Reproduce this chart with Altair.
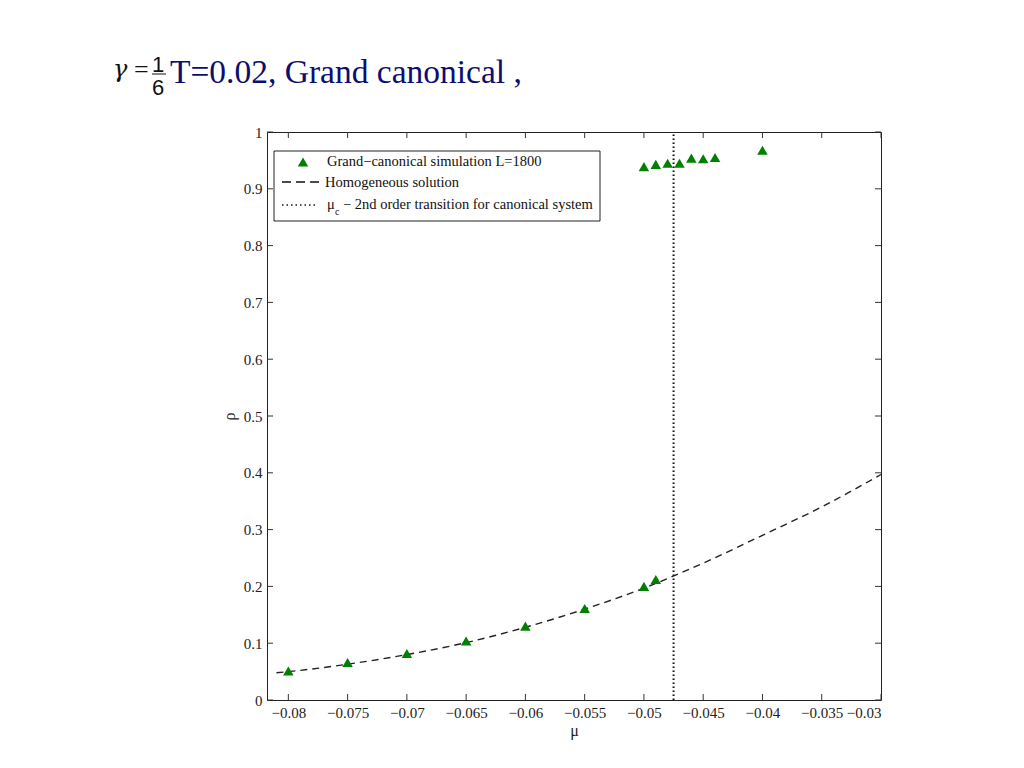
import altair as alt
import pandas as pd

# simulation points (grand canonical, L=1800)
sim_mu = [-0.08, -0.075, -0.07, -0.065, -0.06, -0.055, -0.05, -0.049,
          -0.05, -0.049, -0.048, -0.047, -0.046, -0.045, -0.044, -0.04]
sim_rho = [0.051, 0.066, 0.082, 0.104, 0.130, 0.161, 0.200, 0.212,
           0.939, 0.943, 0.945, 0.945, 0.954, 0.953, 0.955, 0.968]

# homogeneous solution
hom_mu = [-0.081, -0.08, -0.075, -0.07, -0.065, -0.06, -0.055, -0.05, -0.045, -0.04, -0.035, -0.03]
hom_rho = [0.048, 0.050, 0.063, 0.080, 0.101, 0.128, 0.160, 0.197, 0.241, 0.290, 0.340, 0.397]

mu_c = -0.0475
mu_c_range = [0, 1]

x_ticks = [-0.08, -0.075, -0.07, -0.065, -0.06, -0.055, -0.05, -0.045, -0.04, -0.035, -0.03]
y_ticks = [0, 0.1, 0.2, 0.3, 0.4, 0.5, 0.6, 0.7, 0.8, 0.9, 1]

W, H = 614, 568
serif = "Liberation Serif"
green = "#007f00"

xs = alt.Scale(domain=[-0.0818, -0.03], nice=False, zero=False)
ys = alt.Scale(domain=[0, 1], nice=False)

sim = pd.DataFrame({"mu": sim_mu, "rho": sim_rho})
hom = pd.DataFrame({"mu": hom_mu, "rho": hom_rho})
crit = pd.DataFrame({"mu": [mu_c, mu_c], "rho": mu_c_range})
one = pd.DataFrame({"a": [0]})

axis_style = dict(ticks=False, domain=False, grid=False,
                  labelFont=serif, labelFontSize=15, labelColor="#222",
                  titleFont=serif, titleFontSize=16, titleFontWeight="normal", titleColor="#222")
x_axis = alt.Axis(values=x_ticks, format="~g", labelPadding=5, title="μ", titlePadding=2, **axis_style)
y_axis = alt.Axis(values=y_ticks, format="~g", labelPadding=5, title="ρ", titlePadding=6, **axis_style)

dashed = alt.Chart(hom).mark_line(color="#222", strokeWidth=1.4, strokeDash=[7, 5], interpolate="monotone").encode(
    x=alt.X("mu:Q", scale=xs, axis=x_axis),
    y=alt.Y("rho:Q", scale=ys, axis=y_axis),
)

dotted = alt.Chart(crit).mark_line(color="#111", strokeWidth=2, strokeDash=[1.5, 2.5]).encode(
    x=alt.X("mu:Q", scale=xs, axis=x_axis), y=alt.Y("rho:Q", scale=ys, axis=y_axis)
)

points = alt.Chart(sim).mark_point(shape="triangle-up", filled=True, color=green, opacity=1, size=110).encode(
    x=alt.X("mu:Q", scale=xs, axis=x_axis), y=alt.Y("rho:Q", scale=ys, axis=y_axis)
)

# inward ticks on all four sides
xt = pd.DataFrame({"mu": x_ticks})
yt = pd.DataFrame({"rho": y_ticks})
tick_style = dict(color="#333", strokeWidth=1)
xt_bottom = alt.Chart(xt).mark_rule(**tick_style).encode(
    x=alt.X("mu:Q", scale=xs, axis=x_axis), y=alt.value(H), y2=alt.value(H - 6))
xt_top = alt.Chart(xt).mark_rule(**tick_style).encode(
    x=alt.X("mu:Q", scale=xs, axis=x_axis), y=alt.value(0), y2=alt.value(6))
yt_left = alt.Chart(yt).mark_rule(**tick_style).encode(
    y=alt.Y("rho:Q", scale=ys, axis=y_axis), x=alt.value(0), x2=alt.value(6))
yt_right = alt.Chart(yt).mark_rule(**tick_style).encode(
    y=alt.Y("rho:Q", scale=ys, axis=y_axis), x=alt.value(W), x2=alt.value(W - 6))

# legend box
legend_box = alt.Chart(one).mark_rect(fill="white", stroke="#222", strokeWidth=1).encode(
    x=alt.value(7), x2=alt.value(333), y=alt.value(19), y2=alt.value(89)
)
leg_tri = alt.Chart(one).mark_point(shape="triangle-up", filled=True, color=green, opacity=1, size=110).encode(
    x=alt.value(36), y=alt.value(30)
)
leg_dash = alt.Chart(one).mark_rule(color="#111", strokeWidth=1.6, strokeDash=[9, 5]).encode(
    x=alt.value(15), x2=alt.value(57), y=alt.value(50)
)
leg_dot = alt.Chart(one).mark_rule(color="#111", strokeWidth=1.5, strokeDash=[1.5, 3]).encode(
    x=alt.value(15), x2=alt.value(51), y=alt.value(73)
)
leg_text_style = dict(font=serif, fontSize=14.5, color="#111", align="left", baseline="middle")
leg_t1 = alt.Chart(one).mark_text(text="Grand−canonical simulation L=1800", **leg_text_style).encode(
    x=alt.value(60), y=alt.value(30))
leg_t2 = alt.Chart(one).mark_text(text="Homogeneous solution", **leg_text_style).encode(
    x=alt.value(58), y=alt.value(51))
leg_t3a = alt.Chart(one).mark_text(text="μ", **leg_text_style).encode(x=alt.value(60), y=alt.value(73))
leg_t3b = alt.Chart(one).mark_text(text="c", font=serif, fontSize=10, color="#111", align="left",
                                   baseline="middle").encode(x=alt.value(68), y=alt.value(80))
leg_t3c = alt.Chart(one).mark_text(text="− 2nd order transition for canonical system", **leg_text_style).encode(
    x=alt.value(76), y=alt.value(73))

# slide-style title above the plot
t_gamma = alt.Chart(one).mark_text(text="γ", font="DejaVu Serif", fontStyle="italic", fontSize=24, color="#111",
                                   align="left", baseline="alphabetic").encode(x=alt.value(-154), y=alt.value(-55))
t_eq = alt.Chart(one).mark_text(text="=", font=serif, fontSize=26, color="#111",
                                align="left", baseline="alphabetic").encode(x=alt.value(-133), y=alt.value(-54))
t_num = alt.Chart(one).mark_text(text="1", font="Liberation Sans", fontSize=22, color="#111",
                                 align="center", baseline="alphabetic").encode(x=alt.value(-109), y=alt.value(-60))
t_bar = alt.Chart(one).mark_rule(color="#111", strokeWidth=1).encode(
    x=alt.value(-115), x2=alt.value(-101), y=alt.value(-58))
t_den = alt.Chart(one).mark_text(text="6", font="Liberation Sans", fontSize=22, color="#111",
                                 align="center", baseline="alphabetic").encode(x=alt.value(-109), y=alt.value(-37))
t_main = alt.Chart(one).mark_text(text="T=0.02, Grand canonical ,", font=serif, fontSize=33.5, color="#0d0d70",
                                  align="left", baseline="alphabetic").encode(x=alt.value(-97), y=alt.value(-49))

chart = alt.layer(
    dashed, dotted, points,
    xt_bottom, xt_top, yt_left, yt_right,
    legend_box, leg_tri, leg_dash, leg_dot, leg_t1, leg_t2, leg_t3a, leg_t3b, leg_t3c,
    t_gamma, t_eq, t_num, t_bar, t_den, t_main,
).properties(
    width=W, height=H,
    background="white",
    autosize=alt.AutoSizeParams(type="none"),
    padding={"left": 259, "top": 124, "right": 135, "bottom": 60},
).configure_view(
    stroke="#222", strokeWidth=1
)

chart.save("out.html", embed_options={"renderer": "svg", "actions": False})
